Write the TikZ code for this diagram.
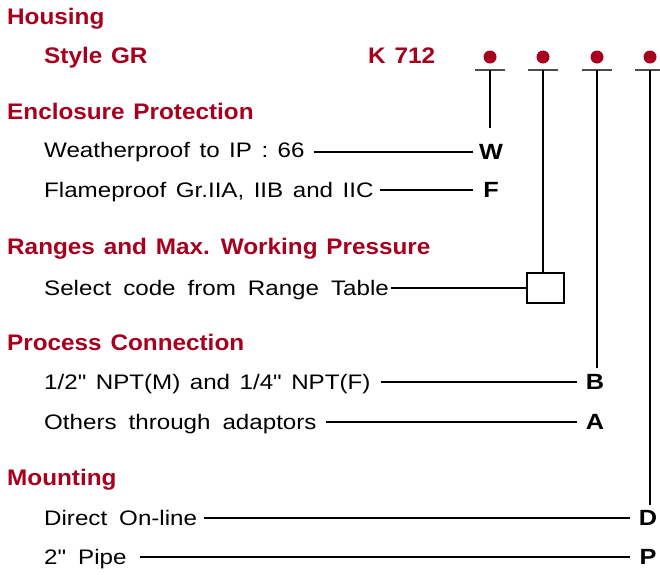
\documentclass[tikz,border=0pt]{standalone}
\usepackage{fontspec}
\setmainfont{Liberation Sans}
\newfontfamily\bodyf{Liberation Sans}[FakeStretch=1.15]
\newfontfamily\headf{Liberation Sans}[FakeStretch=1.08]
\definecolor{hred}{RGB}{166,0,30}
\newcommand\myheadfont{\headf\bfseries\fontsize{22.5}{26}\selectfont\spaceskip 8.8pt\relax}
\newcommand\mybodyfont{\bodyf\fontsize{21}{25}\selectfont\spaceskip 12pt\relax}
\newcommand\mynarrowfont{\bodyf\fontsize{21}{25}\selectfont\spaceskip 9.5pt\relax}
\newcommand\mycodefont{\bodyf\bfseries\fontsize{22}{25}\selectfont}
\begin{document}
\begin{tikzpicture}[x=1pt,y=-1pt,
  head/.style={anchor=base west, inner sep=0, text=hred, font=\myheadfont},
  body/.style={anchor=base west, inner sep=0, font=\mybodyfont},
  bodynarrow/.style={anchor=base west, inner sep=0, font=\mynarrowfont},
  code/.style={inner sep=0, minimum width=36pt, font=\mycodefont},
  lead/.style={line width=1.1pt},
  barline/.style={line width=2.2pt, draw=black!70},
  dotmark/.style={circle, fill=hred, inner sep=0, minimum size=13pt},
  boxmark/.style={draw, line width=1.1pt, minimum width=37pt, minimum height=30pt, inner sep=0}]
\clip (0,0) rectangle (660,574);
% headings
\node[head] (hHousing) at (7,24.3) {Housing};
\node[head] (hStyle) at (44,63.5) {Style GR};
\node[head] (hK) at (368,63.5) {K 712};
\node[head] (hEncl) at (7,119) {Enclosure Protection};
\node[head] (hRange) at (7,254) {Ranges and Max. Working Pressure};
\node[head] (hProc) at (7,350) {Process Connection};
\node[head] (hMount) at (7,485) {Mounting};
% dots and bars
\foreach \i/\x in {1/490,2/543,3/597,4/650}{
  \node[dotmark] (d\i) at (\x,57) {};
  \coordinate (b\i) at (\x,70);
  \draw[barline] ([xshift=-15pt]b\i) -- ([xshift=15pt]b\i);
}
% body texts
\node[bodynarrow] (tW) at (44,157.5) {Weatherproof to IP : 66};
\node[bodynarrow] (tF) at (44,197.5) {Flameproof Gr.IIA, IIB and IIC};
\node[body] (tR) at (44,295.5) {Select code from Range Table};
\node[bodynarrow] (tB) at (44,389.5) {1/2" NPT(M) and 1/4" NPT(F)};
\node[body] (tA) at (44,429.5) {Others through adaptors};
\node[body] (tD) at (44,525.5) {Direct On-line};
\node[body] (tP) at (44,564.5) {2" Pipe};
% codes
\node[code] (cW) at (491,152) {W};
\node[code] (cF) at (491,190) {F};
\node[code] (cB) at (595,382) {B};
\node[code] (cA) at (595,422) {A};
\node[code] (cD) at (648,518) {D};
\node[code] (cP) at (648,557) {P};
\node[boxmark] (box) at (545.5,288) {};
% leaders
\draw[lead] ([xshift=9pt]tW.east |- cW.west) -- (cW.west);
\draw[lead] ([xshift=6pt]tF.east |- cF.west) -- (cF.west);
\draw[lead] ([xshift=2pt]tR.east |- box.west) -- (box.west);
\draw[lead] ([xshift=10pt]tB.east |- cB.west) -- (cB.west);
\draw[lead] ([xshift=9pt]tA.east |- cA.west) -- (cA.west);
\draw[lead] ([xshift=7pt]tD.east |- cD.west) -- (cD.west);
\draw[lead] ([xshift=13pt]tP.east |- cP.west) -- (cP.west);
% verticals
\coordinate (e1) at (490,128);
\coordinate (e3) at (597,368);
\coordinate (e4) at (650,505);
\draw[lead] (b1) -- (e1);
\draw[lead] (b2) -- (b2 |- box.north);
\draw[lead] (b3) -- (e3);
\draw[lead] (b4) -- (e4);
\end{tikzpicture}
\end{document}
